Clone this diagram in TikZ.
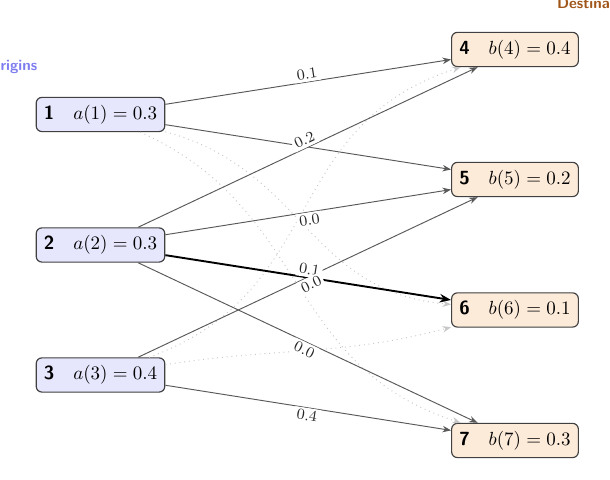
\documentclass[tikz,border=0pt]{standalone}
\usetikzlibrary{arrows.meta}
\definecolor{origfill}{RGB}{230,230,252}
\definecolor{destfill}{RGB}{253,235,218}
\definecolor{origtext}{RGB}{125,125,240}
\definecolor{desttext}{RGB}{160,86,26}
\tikzset{
  orig/.style={draw=black!75, line width=0.6pt, rounded corners=3pt, fill=origfill, inner sep=4pt},
  dest/.style={draw=black!75, line width=0.6pt, rounded corners=3pt, fill=destfill, inner sep=4pt},
  flow/.style={draw=black!65, line width=0.5pt, -{Stealth[length=4.5pt,width=3.4pt]}},
  chosen/.style={draw=black, line width=1pt, -{Stealth[length=6pt,width=4.5pt]}},
  ghost/.style={draw=black!22, line width=0.5pt, dotted, -{Stealth[length=4.5pt,width=3.4pt]}},
  lbl/.style={font=\footnotesize, fill=white, inner sep=1.4pt, text=black!85},
  headline/.style={font=\footnotesize\sffamily\bfseries, inner sep=0pt}
}
\begin{document}
\begin{tikzpicture}[x=0.5263pt, y=0.5263pt]
\useasboundingbox (0,0) rectangle (610,480);

\node[orig] (o1) at (100.5,365.5) {{\sffamily\bfseries 1}\quad $a(1) = 0.3$};
\node[orig] (o2) at (100.5,235) {{\sffamily\bfseries 2}\quad $a(2) = 0.3$};
\node[orig] (o3) at (100.5,105) {{\sffamily\bfseries 3}\quad $a(3) = 0.4$};

\node[dest] (d4) at (515,430.5) {{\sffamily\bfseries 4}\quad $b(4) = 0.4$};
\node[dest] (d5) at (515,300.5) {{\sffamily\bfseries 5}\quad $b(5) = 0.2$};
\node[dest] (d6) at (515,170) {{\sffamily\bfseries 6}\quad $b(6) = 0.1$};
\node[dest] (d7) at (515,39.5) {{\sffamily\bfseries 7}\quad $b(7) = 0.3$};

\node[headline, text=origtext, anchor=base east] (horig) at (37.7,409.3) {Origins};
\node[headline, text=desttext, anchor=base west] (hdest) at (556.7,471.7) {Destinations};

% unused pairs
\draw[ghost] (o1) to[out=-15, in=175, looseness=1.1] (d6);
\draw[ghost] (o1) to[out=-24, in=162, looseness=1.1] (d7);
\draw[ghost] (o3) to[out=20, in=198, looseness=1.15] (d4);
\draw[ghost] (o3) to[out=9, in=195] (d6);

% used pairs
\draw[flow] (o1) -- (d4) coordinate[midway] (m14);
\draw[flow] (o1) -- (d5);
\draw[flow] (o2) -- (d4) coordinate[midway] (m24);
\draw[flow] (o2) -- (d5) coordinate[midway] (m25);
\draw[flow] (o2) -- (d7) coordinate[midway] (m27);
\draw[flow] (o3) -- (d5) coordinate[midway] (m35);
\draw[flow] (o3) -- (d7) coordinate[midway] (m37);
\draw[chosen] (o2) -- (d6) coordinate[midway] (m26);

% flow labels
\path (o1) -- (d4) node[lbl, midway, above, sloped] (l14) {$0.1$};
\path (o2) -- (d4) node[lbl, midway, above, sloped] (l24) {$0.2$};
\path (o2) -- (d5) node[lbl, midway, below, sloped] (l25) {$0.0$};
\path (o2) -- (d6) node[lbl, midway, above, sloped] (l26) {$0.1$};
\path (o3) -- (d5) node[lbl, midway, below, sloped] (l35) {$0.0$};
\path (o2) -- (d7) node[lbl, midway, below, sloped] (l27) {$0.0$};
\path (o3) -- (d7) node[lbl, midway, below, sloped] (l37) {$0.4$};
\end{tikzpicture}
\end{document}
